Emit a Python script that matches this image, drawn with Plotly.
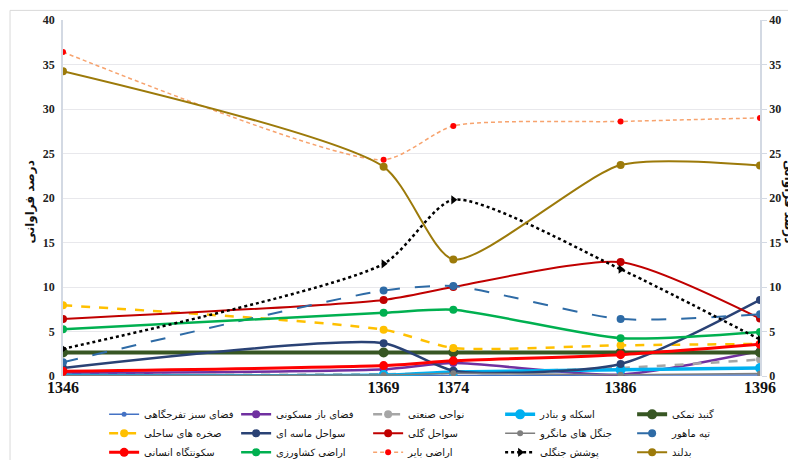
import plotly.graph_objects as go

years = [1346, 1369, 1374, 1386, 1396]

names = [
    "فضای سبز تفرجگاهی", "فضای باز مسکونی", "نواحی صنعتی", "اسکله و بنادر", "گنبد نمکی",
    "صخره های ساحلی", "سواحل ماسه ای", "سواحل گلی", "جنگل های مانگرو", "تپه ماهور",
    "سکونتگاه انسانی", "اراضی کشاورزی", "اراضی بایر", "پوشش جنگلی", "بدلند",
]

green_space = [0.0, 0.05, 0.05, 0.1, 0.1]
open_residential = [0.3, 0.75, 1.45, 0.15, 2.8]
industrial = [0.1, 0.2, 0.35, 0.9, 1.85]
ports = [0.05, 0.1, 0.45, 0.7, 0.9]
salt_dome = [2.65, 2.65, 2.65, 2.65, 2.65]
rocky_coast = [7.95, 5.2, 3.15, 3.45, 3.6]
sandy_coast = [0.9, 3.68, 0.6, 1.35, 8.55]
muddy_coast = [6.4, 8.55, 10.0, 12.8, 6.45]
mangrove = [0.05, 0.1, 0.3, 0.15, 0.28]
hills = [1.55, 9.6, 10.1, 6.4, 6.95]
settlement = [0.53, 1.17, 1.7, 2.4, 3.57]
agriculture = [5.26, 7.1, 7.45, 4.25, 4.95]
barren = [36.4, 24.3, 28.1, 28.6, 29.0]
forest_cover = [3.05, 12.6, 19.8, 12.0, 4.1]
badland = [34.25, 23.5, 13.1, 23.7, 23.65]

series = [green_space, open_residential, industrial, ports, salt_dome,
          rocky_coast, sandy_coast, muddy_coast, mangrove, hills,
          settlement, agriculture, barren, forest_cover, badland]

styles = [
    dict(color="#4472C4", width=1.5, dash="solid", msize=5, mcolor="#4472C4", symbol="circle"),
    dict(color="#7030A0", width=2.5, dash="solid", msize=8, mcolor="#7030A0", symbol="circle"),
    dict(color="#A6A6A6", width=2.5, dash="dash", msize=8, mcolor="#A6A6A6", symbol="circle"),
    dict(color="#00B0F0", width=3.5, dash="solid", msize=10, mcolor="#00B0F0", symbol="circle"),
    dict(color="#375623", width=4, dash="solid", msize=10, mcolor="#375623", symbol="circle"),
    dict(color="#FFC000", width=2.5, dash="dash", msize=8, mcolor="#FFC000", symbol="circle"),
    dict(color="#2A4275", width=2.5, dash="solid", msize=8, mcolor="#2A4275", symbol="circle"),
    dict(color="#C00000", width=2, dash="solid", msize=8, mcolor="#C00000", symbol="circle"),
    dict(color="#7F7F7F", width=1.5, dash="solid", msize=6, mcolor="#7F7F7F", symbol="circle"),
    dict(color="#2E6BA6", width=2, dash="longdash", msize=8, mcolor="#2E6BA6", symbol="circle"),
    dict(color="#FF0000", width=3, dash="solid", msize=9, mcolor="#FF0000", symbol="circle"),
    dict(color="#00B050", width=2.5, dash="solid", msize=8, mcolor="#00B050", symbol="circle"),
    dict(color="#F7A36E", width=1.5, dash="4px,3px", msize=6, mcolor="#FF0000", symbol="circle"),
    dict(color="#000000", width=2.5, dash="dot", msize=8, mcolor="#000000", symbol="triangle-right"),
    dict(color="#9C7A0A", width=2, dash="solid", msize=8, mcolor="#9C7A0A", symbol="circle"),
]

fig = go.Figure()
for name, vals, st in zip(names, series, styles):
    fig.add_trace(go.Scatter(
        x=years, y=vals, name=name, mode="lines+markers",
        line=dict(color=st["color"], width=st["width"], dash=st["dash"], shape="spline", smoothing=0.65),
        marker=dict(size=st["msize"], color=st["mcolor"], symbol=st["symbol"]),
    ))

# invisible trace for right axis
fig.add_trace(go.Scatter(x=[years[0]], y=[0], yaxis="y2", showlegend=False,
                         mode="markers", marker=dict(opacity=0), hoverinfo="skip"))

tickfont = dict(family="Liberation Serif", size=12, color="#222222")
fig.update_layout(
    width=788, height=452,
    margin=dict(l=55, r=36, t=12, b=84, autoexpand=False),
    paper_bgcolor="white", plot_bgcolor="white",
    xaxis=dict(range=[1346, 1396], tickvals=years, ticktext=[f"<b>{y}</b>" for y in years],
               tickfont=dict(family="Liberation Serif", size=16, color="#111111"),
               showgrid=False, zeroline=False, showline=False, ticks="", ticklen=0),
    yaxis=dict(range=[0, 40], dtick=5, tickfont=tickfont, tickformat="d",
               showgrid=True, gridcolor="#E8E8EC", gridwidth=1, zeroline=False,
               showline=True, linecolor="#D3D9E3", linewidth=1.5,
               ticks="outside", ticklen=4, tickcolor="rgba(0,0,0,0)",
               tickprefix="<b>", ticksuffix="</b>"),
    yaxis2=dict(range=[0, 40], dtick=5, overlaying="y", side="right", tickfont=tickfont,
                showgrid=False, zeroline=False, showline=True, linecolor="#D3D9E3", linewidth=1.5,
                ticks="outside", ticklen=5, tickcolor="#D3D9E3",
                tickprefix="<b>", ticksuffix="</b>"),
    legend=dict(orientation="h", x=0.059, y=-0.067, xanchor="left", yanchor="top",
                entrywidth=87, entrywidthmode="pixels", traceorder="normal",
                font=dict(family="DejaVu Sans", size=10, color="#111111"),
                itemwidth=30, tracegroupgap=0),
    showlegend=True,
    annotations=[
        dict(text="<b>درصد فراوانی</b>", xref="paper", yref="paper", x=-0.046, y=0.49,
             xanchor="center", yanchor="middle",
             textangle=-90, showarrow=False, font=dict(family="DejaVu Sans", size=12, color="#111111")),
        dict(text="<b>درصد فراوانی</b>", xref="paper", yref="paper", x=1.041, y=0.49,
             xanchor="center", yanchor="middle",
             textangle=90, showarrow=False, font=dict(family="DejaVu Sans", size=12, color="#111111")),
    ],
    shapes=[dict(type="rect", xref="paper", yref="paper", x0=-0.076, x1=1.2, y0=-0.4, y1=1.027,
                 line=dict(color="#D9D9D9", width=1), fillcolor="rgba(0,0,0,0)", layer="below")],
)

fig.write_html("out.html")
